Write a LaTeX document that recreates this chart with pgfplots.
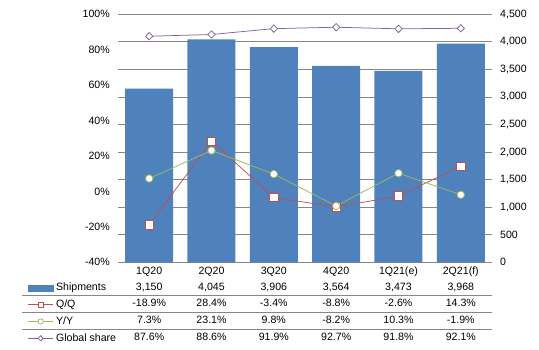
\documentclass[border=0pt]{standalone}
\usepackage{pgfplots}
\pgfplotsset{compat=1.18}
\usepackage{fontspec}
\setmainfont{Liberation Sans}
\definecolor{barblue}{RGB}{79,129,189}
\definecolor{qqred}{RGB}{192,80,77}
\definecolor{yygreen}{RGB}{155,187,89}
\definecolor{gspurple}{RGB}{128,100,162}
\definecolor{gridgray}{RGB}{134,134,134}
\newcommand\tf{\fontsize{10.6}{12}\selectfont}
\begin{document}
\begin{tikzpicture}[x=1pt,y=1pt]
\useasboundingbox (0,0) rectangle (539,350);
% bars, right axis
\begin{axis}[at={(118pt,87.7pt)}, anchor=south west, width=374pt, height=248pt, scale only axis,
  xmin=-0.5, xmax=5.5, ymin=0, ymax=4500, ytick distance=500, xtick=\empty,
  axis line style={draw=none}, major tick length=0pt,
  ymajorgrids, grid style={gridgray, line width=0.8pt},
  yticklabel pos=right,
  yticklabel style={font=\tf, anchor=west, inner sep=0pt, xshift=8pt},
  /pgf/number format/.cd, 1000 sep={,}, assume math mode=true]
\addplot[ybar, bar width=48pt, fill=barblue, draw=none] coordinates {(0,3150)(1,4045)(2,3906)(3,3564)(4,3473)(5,3968)};
\end{axis}
% lines, left axis
\begin{axis}[at={(118pt,87.7pt)}, anchor=south west, width=374pt, height=248pt, scale only axis,
  xmin=-0.5, xmax=5.5, ymin=-40, ymax=100, ytick={-40,-20,...,100}, xtick=\empty,
  axis line style={draw=none}, major tick length=0pt,
  yticklabel={\pgfmathprintnumber{\tick}\%},
  yticklabel style={font=\tf, anchor=east, inner sep=0pt, xshift=-8pt},
  /pgf/number format/assume math mode=true,
  legend image code/.code={\draw[mark repeat=2,mark phase=2,mark size=2.6pt] plot coordinates {(0pt,0pt)(12.5pt,0pt)(25pt,0pt)};},
  legend style={at={(axis description cs:-0.2417,-0.0827)}, anchor=north west, draw=none, fill=none, inner sep=0pt,
    nodes={inner sep=0pt, text height=7.7pt, text depth=2.2pt, font=\tf},
    row sep=6.87pt, /tikz/every odd column/.append style={column sep=2.5pt}},
  legend cell align=left]
\addlegendimage{legend image code/.code={\fill[barblue] (0pt,-3pt) rectangle (25pt,3pt);}}
\addplot[qqred, line width=0.75pt, mark=square*, mark options={fill=white, solid}, mark size=4.2pt]
  coordinates {(0,-18.9)(1,28.4)(2,-3.4)(3,-8.8)(4,-2.6)(5,14.3)};
\addplot[yygreen, line width=0.75pt, mark=*, mark options={fill=white, solid}, mark size=3.7pt]
  coordinates {(0,7.3)(1,23.1)(2,9.8)(3,-8.2)(4,10.3)(5,-1.9)};
\addplot[gspurple, line width=0.75pt, mark=diamond*, mark options={fill=white, solid, xscale=1.3}, mark size=3.7pt]
  coordinates {(0,87.6)(1,88.6)(2,91.9)(3,92.7)(4,91.8)(5,92.1)};
\legend{Shipments,Q/Q,Y/Y,Global share}
\end{axis}
% data table
\foreach \x/\c/\s/\q/\y/\g in {
  149.2/1Q20/{3,150}/-18.9/7.3/87.6,
  211.5/2Q20/{4,045}/28.4/23.1/88.6,
  273.8/3Q20/{3,906}/-3.4/9.8/91.9,
  336.2/4Q20/{3,564}/-8.8/-8.2/92.7,
  398.5/1Q21(e)/{3,473}/-2.6/10.3/91.8,
  460.8/2Q21(f)/{3,968}/14.3/-1.9/92.1}{
  \node[anchor=base, inner sep=0pt, font=\tf] at (\x,75.7) {\c};
  \node[anchor=base, inner sep=0pt, font=\tf] at (\x,59.5) {\s};
  \node[anchor=base, inner sep=0pt, font=\tf] at (\x,43.2) {\q\%};
  \node[anchor=base, inner sep=0pt, font=\tf] at (\x,26.2) {\y\%};
  \node[anchor=base, inner sep=0pt, font=\tf] at (\x,9.2) {\g\%};
}
\draw[gridgray, line width=0.8pt] (22,55) -- (492,55);
\draw[gridgray, line width=0.8pt] (22,38) -- (492,38);
\draw[gridgray, line width=0.8pt] (22,21) -- (492,21);
\end{tikzpicture}
\end{document}
